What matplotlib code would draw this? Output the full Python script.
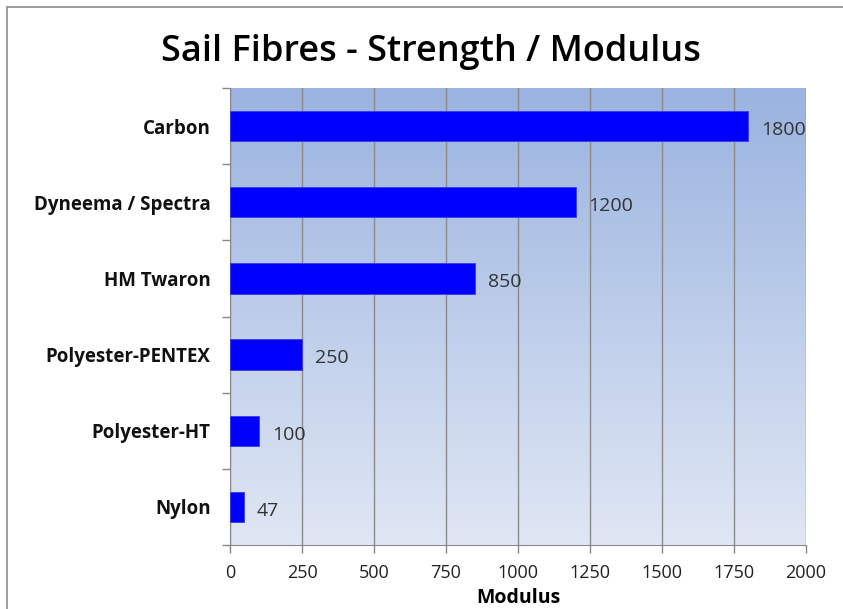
import numpy as np
import matplotlib.pyplot as plt
from matplotlib.patches import Rectangle
from matplotlib.colors import LinearSegmentedColormap

# Dados
fibres = ['Carbon', 'Dyneema / Spectra', 'HM Twaron', 'Polyester-PENTEX', 'Polyester-HT', 'Nylon']
modulus = [1800, 1200, 850, 250, 100, 47]
xticks = [0, 250, 500, 750, 1000, 1250, 1500, 1750, 2000]

fig = plt.figure(figsize=(8.43, 6.09), dpi=100)
ax = fig.add_axes([230/843, 1 - 545/609, 576/843, 457/609])

# Moldura da figura
fig.patches.append(Rectangle((7/843, -0.1), 1.2, 1 - 7/609 + 0.1, transform=fig.transFigure,
                             fill=False, edgecolor='#8c8c8c', linewidth=1.2))

# Fundo em degradê
cmap = LinearSegmentedColormap.from_list('bg', ['#9ab3e0', '#e0e7f4'])
grad = np.linspace(0, 1, 256).reshape(-1, 1)
ax.imshow(grad, cmap=cmap, aspect='auto', extent=[0, 2000, 5.5, -0.5], zorder=0)

# Barras
y = np.arange(len(fibres))
ax.barh(y, modulus, height=0.4, color='#0000ff', edgecolor='#3a3ae8', linewidth=0.6, zorder=3)
for yi, v in zip(y, modulus):
    ax.text(v + 45, yi + 0.05, str(v), va='center', ha='left', fontsize=14,
            family='Open Sans', color='#333333', zorder=4)

ax.set_xlim(0, 2000)
ax.set_ylim(5.5, -0.5)
ax.set_xticks(xticks)
ax.set_xticklabels([str(t) for t in xticks], family='Open Sans', fontsize=13, color='#222222')
ax.set_yticks(y)
ax.set_yticklabels(fibres, family='Open Sans', fontsize=13.5, fontweight='bold', color='#111111')
ax.tick_params(axis='y', length=0, pad=14)
ax.set_yticks(np.arange(-0.5, 6, 1), minor=True)
ax.tick_params(axis='y', which='minor', length=6, color='#888888', width=1)
ax.tick_params(axis='x', length=6, color='#888888', width=1, pad=8)

ax.grid(axis='x', color='#8a8a8a', linewidth=1, zorder=1)
ax.set_axisbelow(True)
for s in ['top', 'right']:
    ax.spines[s].set_visible(False)
for s in ['left', 'bottom']:
    ax.spines[s].set_color('#888888')

ax.set_xlabel('Modulus', family='Open Sans', fontsize=14, fontweight='bold', labelpad=4)
fig.text(431/843, 1 - 52/609, 'Sail Fibres - Strength / Modulus', ha='center', va='center',
         family='Open Sans', fontsize=26, fontweight='semibold')

fig.savefig('out.png', dpi=100)
